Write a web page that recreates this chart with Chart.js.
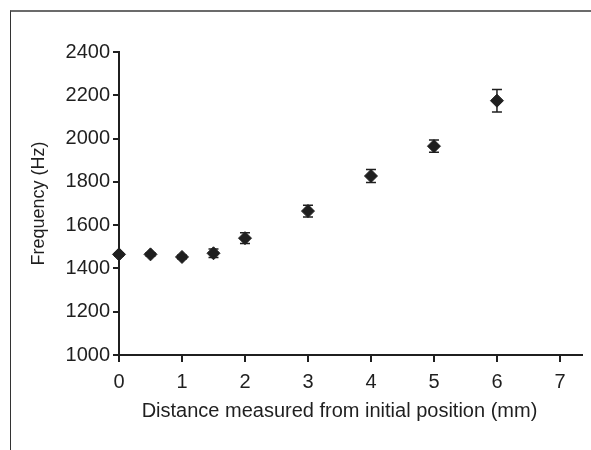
<!DOCTYPE html>
<html><head><meta charset="utf-8">
<script src="https://cdn.jsdelivr.net/npm/chart.js@4"></script>
<style>
html,body{margin:0;padding:0;background:#fff;}
#wrap{position:relative;width:591px;height:450px;overflow:hidden;}
#frame{position:absolute;left:10px;top:10px;right:0;bottom:0;border-top:2px solid #6b6b6b;border-left:1px solid #333;}
canvas{position:absolute;left:0;top:0;}
</style></head><body>
<div id="wrap"><div id="frame"></div><canvas id="c" width="591" height="450"></canvas></div>
<script>
const distances = [0, 0.5, 1, 1.5, 2, 3, 4, 5, 6];
const frequencies = [1465, 1465, 1453, 1470, 1540, 1665, 1827, 1965, 2175];
const errors = [8, 8, 8, 20, 25, 27, 30, 28, 52];
const xTickValues = [0, 1, 2, 3, 4, 5, 6, 7];
const yTickValues = [1000, 1200, 1400, 1600, 1800, 2000, 2200, 2400];
const xAxisMax = 7.35;
const xTitle = 'Distance measured from initial position (mm)';
const yTitle = 'Frequency (Hz)';

const ink = '#1f1f1f';
const FONT = 'Liberation Sans, Arial, sans-serif';

const errorBarPlugin = {
  id: 'errorBars',
  beforeDatasetsDraw(chart) {
    const ctx = chart.ctx, xs = chart.scales.x, ys = chart.scales.y;
    ctx.save();
    ctx.strokeStyle = ink;
    ctx.lineWidth = 1.5;
    distances.forEach((d, i) => {
      const px = xs.getPixelForValue(d);
      const top = ys.getPixelForValue(frequencies[i] + errors[i]);
      const bot = ys.getPixelForValue(frequencies[i] - errors[i]);
      ctx.beginPath();
      ctx.moveTo(px, top); ctx.lineTo(px, bot);
      ctx.moveTo(px - 5, top); ctx.lineTo(px + 5, top);
      ctx.moveTo(px - 5, bot); ctx.lineTo(px + 5, bot);
      ctx.stroke();
    });
    ctx.restore();
  }
};

// axis titles centred on the labelled tick span (as in the reference)
const axisTitlePlugin = {
  id: 'axisTitles',
  afterDraw(chart) {
    const ctx = chart.ctx, xs = chart.scales.x, ys = chart.scales.y;
    ctx.save();
    ctx.fillStyle = ink;
    ctx.textAlign = 'center';
    ctx.textBaseline = 'middle';
    ctx.font = '20px ' + FONT;
    const xc = (xs.getPixelForValue(xTickValues[0]) + xs.getPixelForValue(xTickValues[xTickValues.length - 1])) / 2;
    ctx.fillText(xTitle, xc, xs.bottom - 39);
    const yc = (ys.getPixelForValue(yTickValues[0]) + ys.getPixelForValue(yTickValues[yTickValues.length - 1])) / 2;
    ctx.translate(ys.left + 39, yc);
    ctx.rotate(-Math.PI / 2);
    ctx.font = '18px ' + FONT;
    ctx.fillText(yTitle, 0, 0);
    ctx.restore();
  }
};

new Chart(document.getElementById('c'), {
  type: 'scatter',
  data: {
    datasets: [{
      data: distances.map((d, i) => ({x: d, y: frequencies[i]})),
      pointStyle: 'rectRot',
      pointRadius: 6.5,
      pointBorderWidth: 1,
      backgroundColor: ink,
      borderColor: ink,
      clip: false
    }]
  },
  options: {
    responsive: false,
    animation: false,
    events: [],
    layout: {padding: {top: 52, right: 9, left: 0, bottom: 0}},
    plugins: {legend: {display: false}, tooltip: {enabled: false}},
    scales: {
      x: {
        type: 'linear',
        min: xTickValues[0],
        max: xAxisMax,
        afterBuildTicks: s => { s.ticks = xTickValues.map(v => ({value: v})); },
        afterFit: s => { s.height = 95; },
        grid: {display: true, drawOnChartArea: false, drawTicks: true, tickLength: 7, color: ink, lineWidth: 2},
        border: {display: true, color: ink, width: 2},
        ticks: {color: ink, padding: 8, font: {family: FONT, size: 20}, callback: v => String(v), maxRotation: 0},
        title: {display: false}
      },
      y: {
        type: 'linear',
        min: yTickValues[0],
        max: yTickValues[yTickValues.length - 1],
        afterBuildTicks: s => { s.ticks = yTickValues.map(v => ({value: v})); },
        afterFit: s => { s.width = 119; },
        grid: {display: true, drawOnChartArea: false, drawTicks: true, tickLength: 6, color: ink, lineWidth: 2},
        border: {display: true, color: ink, width: 2},
        ticks: {color: ink, padding: 3, font: {family: FONT, size: 20}, callback: v => String(v)},
        title: {display: false}
      }
    }
  },
  plugins: [errorBarPlugin, axisTitlePlugin]
});
</script>
</body></html>
